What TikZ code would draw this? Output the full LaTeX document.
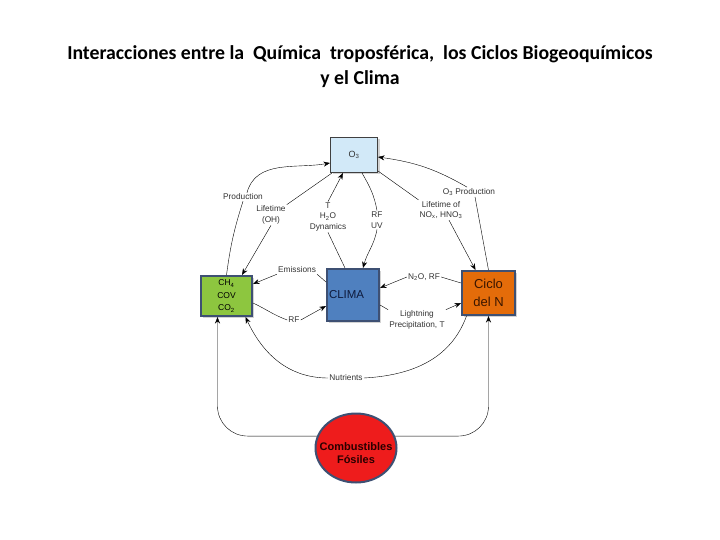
\documentclass[tikz,border=0pt]{standalone}
\usepackage{fontspec}
\setmainfont{Liberation Sans}
\newfontfamily\titlefont{Carlito}
\usetikzlibrary{positioning, arrows, arrows.meta, shadows, shapes.geometric}
\definecolor{ozoneblue}{HTML}{D2E9F8}
\definecolor{gasgreen}{HTML}{8DC63F}
\definecolor{climablue}{HTML}{4F80BF}
\definecolor{nitroorange}{HTML}{E46C0A}
\definecolor{fuelred}{HTML}{EE1C1C}
\definecolor{edgeblue}{HTML}{3E5073}
\definecolor{labelgray}{HTML}{333333}
\definecolor{climatext}{HTML}{0E1A3C}
\definecolor{nitrotext}{HTML}{3A1600}
\definecolor{fueltext}{HTML}{2A0000}
\tikzset{
    ->, % connectors carry arrowheads
    >={Stealth[length=6.5pt, width=5pt]},
    x=1pt, y=1pt,
    line width=1pt,
    every node/.style={inner sep=1pt},
    shadowed/.style={drop shadow={shadow xshift=2pt, shadow yshift=-2pt, opacity=0.35}},
    box/.style={draw=edgeblue, line width=2pt, shadowed},
    lbl/.style={font=\fontsize{8.3}{10.5}\selectfont, text=labelgray, align=center},
}
\begin{document}
\begin{tikzpicture}
  \useasboundingbox (0,0) rectangle (720,-540);

  \node[font=\titlefont\bfseries\fontsize{19.8}{25}\selectfont, align=center] (title) at (360,-67)
    {Interacciones entre la\ \ Química\ \ troposférica,\ \ los Ciclos Biogeoquímicos\\y el Clima};

  % boxes
  \node[draw=black!75, line width=1pt, fill=ozoneblue, minimum width=47pt, minimum height=35pt,
        shadowed, font=\fontsize{9}{10}\selectfont, text=labelgray] (o3) at (354,-155) {O\textsubscript{3}};
  \node[box, fill=gasgreen, minimum width=51pt, minimum height=40pt, align=center,
        font=\fontsize{8.5}{12.5}\selectfont] (gases) at (226.5,-296) {CH\textsubscript{4}\\COV\\CO\textsubscript{2}};
  \node[box, fill=climablue, minimum width=52pt, minimum height=52pt, text width=48pt, align=left,
        font=\fontsize{11.5}{13}\selectfont, text=climatext] (clima) at (353,-295) {CLIMA};
  \node[box, fill=nitroorange, minimum width=53pt, minimum height=44pt, align=center,
        font=\fontsize{13}{17.5}\selectfont, text=nitrotext] (cicloN) at (488.5,-293) {Ciclo\\del N};
  \node[ellipse, draw=edgeblue, line width=2pt, fill=fuelred, minimum width=81pt, minimum height=69pt] (fosiles) at (356,-448) {};
  \node[font=\bfseries\fontsize{11}{13}\selectfont, text=fueltext, align=center] (fosilesTxt)
    at ([yshift=-5pt]fosiles.center) {Combustibles\\Fósiles};

  % labels
  \node[lbl] (lProd) at (243,-197) {Production};
  \node[lbl] (lLife) at (271,-215) {Lifetime\\(OH)};
  \node[lbl] (lDyn) at (328,-217) {T\\H\textsubscript{2}O\\Dynamics};
  \node[lbl] (lRFUV) at (377,-220) {RF\\UV};
  \node[lbl] (lO3P) at (469,-192) {O\textsubscript{3} Production};
  \node[lbl] (lNOx) at (441,-210) {Lifetime of\\NO\textsubscript{x}, HNO\textsubscript{3}};
  \node[lbl] (lEmis) at (297,-270) {Emissions};
  \node[lbl] (lRF) at (294,-320) {RF};
  \node[lbl] (lN2O) at (424,-277) {N\textsubscript{2}O, RF};
  \node[lbl] (lLight) at (417,-320) {Lightning\\Precipitation, T};
  \node[lbl] (lNutr) at (346,-378) {Nutrients};

  % around ozone
  \draw[-] (gases.north) to[bend left=5] (lProd.south);
  \draw ([xshift=4pt]lProd.north) to[out=75, in=190] ([yshift=-8pt]o3.west);
  \draw[-] ([xshift=2pt]o3.south west) -- (lLife.north east);
  \draw (lLife.south) -- ([xshift=-11pt]gases.north east);
  \draw[-] ([xshift=-8pt]clima.north) -- (lDyn.south);
  \draw (lDyn.north) -- ([xshift=-11pt]o3.south);
  \draw[-] ([xshift=8pt]o3.south) to[out=-60, in=100] (lRFUV.north);
  \draw (lRFUV.south) to[out=-100, in=75] ([xshift=10pt]clima.north);
  \draw[-] (cicloN.north) -- ([xshift=6pt]lO3P.south);
  \draw ([xshift=-2pt]lO3P.north) to[out=150, in=-8] ([yshift=-2pt]o3.east);
  \draw[-] ([yshift=2pt]o3.south east) -- (lNOx.north west);
  \draw ([xshift=8pt]lNOx.south) -- ([xshift=-13pt]cicloN.north);

  % around the climate box
  \draw[-] ([yshift=13pt]clima.west) -- (lEmis.south east);
  \draw (lEmis.south west) -- ([yshift=12pt]gases.east);
  \draw[-] ([yshift=-7pt]gases.east) to[out=-25, in=160] (lRF.west);
  \draw (lRF.east) -- ([yshift=-11pt]clima.west);
  \draw[-] ([yshift=10pt]cicloN.west) -- (lN2O.east);
  \draw (lN2O.west) -- ([yshift=7pt]clima.east);
  \draw[-] ([yshift=-10pt]clima.east) -- (lLight.north west);
  \draw (lLight.north east) -- ([yshift=-10pt]cicloN.west);

  % nutrients and fuels
  \draw[-] ([xshift=-22pt]cicloN.south) to[out=-110, in=3] (lNutr.east);
  \draw (lNutr.west) to[out=180, in=-65] ([xshift=19pt]gases.south);
  \draw[rounded corners=30pt] (fosiles.163) -| ([xshift=-9pt]gases.south);
  \draw[rounded corners=30pt] (fosiles.17) -| (cicloN.south);
\end{tikzpicture}
\end{document}
